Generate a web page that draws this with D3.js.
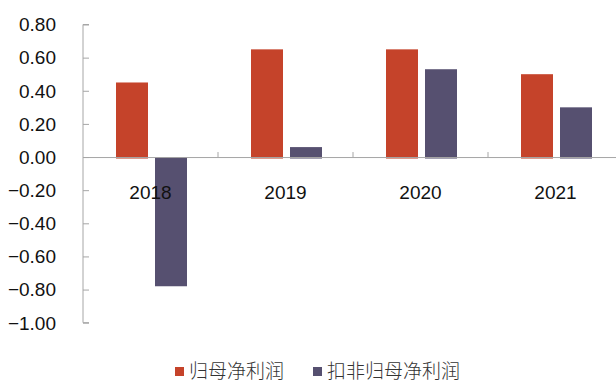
<!DOCTYPE html>
<html>
<head>
<meta charset="utf-8">
<script src="https://cdn.jsdelivr.net/npm/d3@7"></script>
<style>
  html, body { margin: 0; padding: 0; background: #fff; }
  svg { display: block; }
</style>
</head>
<body>
<svg id="chart" width="616" height="381"></svg>
<script>
// Years and the two profit series (元/股)
const years = ["2018", "2019", "2020", "2021"];
const seriesNames = ["归母净利润", "扣非归母净利润"];
const netProfit = [0.45, 0.65, 0.65, 0.50];
const deductedProfit = [-0.78, 0.06, 0.53, 0.30];
const yTicks = [0.8, 0.6, 0.4, 0.2, 0, -0.2, -0.4, -0.6, -0.8, -1.0];
const colors = ["#C5432A", "#565070"];

const svg = d3.select("#chart");
const margin = { left: 83, top: 24.5, bottom: 322.7 };

const x = d3.scaleBand().domain(years).range([83, 623]);
const y = d3.scaleLinear().domain([-1.0, 0.8]).range([margin.bottom, margin.top]);

const rows = years.map((yr, i) => ({ year: yr, values: [netProfit[i], deductedProfit[i]] }));

const barW = 32, gap = 7;

// bars
const g = svg.append("g");
rows.forEach(r => {
  const cx = x(r.year) + x.bandwidth() / 2 + 1;
  r.values.forEach((v, k) => {
    const x0 = k === 0 ? cx - gap / 2 - barW : cx + gap / 2;
    g.append("rect")
      .attr("x", x0)
      .attr("y", Math.min(y(v), y(0)))
      .attr("width", barW)
      .attr("height", Math.abs(y(v) - y(0)) + (v > 0 ? 1.5 : 0))
      .attr("fill", colors[k]);
  });
});

// y axis
const yAxis = d3.axisRight(y).tickValues(yTicks).tickSize(6).tickFormat("");
const ya = svg.append("g").attr("transform", `translate(${margin.left},0)`).call(yAxis);
ya.select(".domain").attr("stroke", "#a6a6a6").attr("d", `M6,${margin.top}H0V${margin.bottom}H6`);
ya.selectAll(".tick line").attr("stroke", "#a6a6a6");

svg.append("g").selectAll("text").data(yTicks).join("text")
  .attr("x", 56).attr("y", d => y(d))
  .attr("dy", "0.36em")
  .attr("text-anchor", "end")
  .attr("font-family", "Liberation Sans, Arial, sans-serif")
  .attr("font-size", 19)
  .attr("fill", "#111")
  .text(d => d3.format(".2f")(d));

// x axis at zero
const xAxis = d3.axisTop(x).tickSize(5).tickFormat("").tickSizeOuter(0);
const xa = svg.append("g").attr("transform", `translate(0,${y(0)})`).call(xAxis);
xa.select(".domain").attr("stroke", "#a6a6a6");
xa.selectAll(".tick line").attr("stroke", "#a6a6a6")
  .attr("transform", `translate(${x.bandwidth() / 2},0)`);
xa.selectAll(".tick").filter((d, i) => i === years.length - 1).remove();

svg.append("g").selectAll("text").data(years).join("text")
  .attr("x", d => x(d) + x.bandwidth() / 2)
  .attr("y", 199)
  .attr("text-anchor", "middle")
  .attr("font-family", "Liberation Sans, Arial, sans-serif")
  .attr("font-size", 19)
  .attr("fill", "#111")
  .text(d => d);

// legend
const legendX = [175, 313];
const lg = svg.append("g");
seriesNames.forEach((name, k) => {
  lg.append("rect").attr("x", legendX[k]).attr("y", 367).attr("width", 9).attr("height", 9).attr("fill", colors[k]);
  lg.append("text")
    .attr("x", legendX[k] + 14).attr("y", 377.5)
    .attr("font-family", "Noto Sans CJK SC, sans-serif")
    .attr("font-weight", 300)
    .attr("font-size", 19)
    .attr("fill", "#333")
    .text(name);
});
</script>
</body>
</html>
